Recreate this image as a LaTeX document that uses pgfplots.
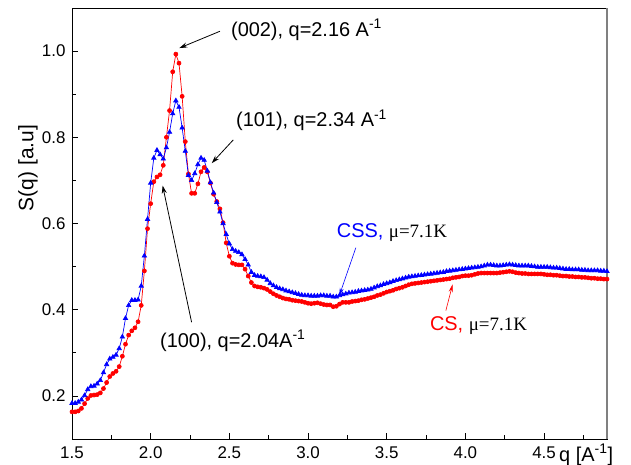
\documentclass[border=0pt]{standalone}
\usepackage{pgfplots}
\pgfplotsset{compat=1.18}
\usepackage{pgfplotstable}
\usetikzlibrary{arrows.meta}
\usepackage{fontspec}
\setmainfont{Liberation Sans}
\newfontfamily\seriffont{Liberation Serif}

\pgfplotstableread{
q S
1.50 0.183
1.52 0.183
1.54 0.186
1.56 0.191
1.58 0.201
1.60 0.215
1.62 0.222
1.64 0.223
1.66 0.228
1.68 0.236
1.70 0.254
1.72 0.273
1.74 0.286
1.76 0.290
1.78 0.295
1.80 0.310
1.82 0.337
1.84 0.380
1.86 0.410
1.88 0.422
1.90 0.422
1.92 0.423
1.94 0.455
1.96 0.525
1.98 0.610
2.00 0.694
2.02 0.752
2.04 0.770
2.06 0.760
2.08 0.750
2.10 0.776
2.12 0.812
2.14 0.855
2.16 0.885
2.18 0.870
2.20 0.822
2.22 0.768
2.24 0.712
2.26 0.700
2.28 0.716
2.30 0.737
2.32 0.752
2.34 0.747
2.36 0.722
2.38 0.695
2.40 0.671
2.42 0.649
2.44 0.627
2.46 0.600
2.48 0.575
2.50 0.553
2.52 0.540
2.54 0.536
2.56 0.533
2.58 0.528
2.60 0.517
2.62 0.504
2.64 0.487
2.66 0.480
2.68 0.478
2.70 0.477
2.72 0.475
2.74 0.469
2.76 0.461
2.78 0.456
2.80 0.452
2.82 0.449
2.84 0.447
2.86 0.444
2.88 0.442
2.90 0.440
2.92 0.438
2.94 0.436
2.96 0.434
2.98 0.433
3.00 0.433
3.02 0.432
3.04 0.432
3.06 0.432
3.08 0.433
3.10 0.433
3.12 0.432
3.14 0.432
3.16 0.430
3.18 0.430
3.20 0.433
3.22 0.435
3.24 0.437
3.26 0.439
3.28 0.440
3.30 0.441
3.32 0.443
3.34 0.444
3.36 0.445
3.38 0.446
3.40 0.448
3.42 0.451
3.44 0.454
3.46 0.456
3.48 0.459
3.50 0.461
3.52 0.463
3.54 0.466
3.56 0.468
3.58 0.470
3.60 0.472
3.62 0.474
3.64 0.476
3.66 0.477
3.68 0.478
3.70 0.479
3.72 0.480
3.74 0.481
3.76 0.482
3.78 0.483
3.80 0.484
3.82 0.485
3.84 0.486
3.86 0.487
3.88 0.489
3.90 0.490
3.92 0.491
3.94 0.492
3.96 0.493
3.98 0.494
4.00 0.495
4.02 0.496
4.04 0.497
4.06 0.498
4.08 0.499
4.10 0.500
4.12 0.502
4.14 0.504
4.16 0.504
4.18 0.503
4.20 0.502
4.22 0.502
4.24 0.503
4.26 0.504
4.28 0.505
4.30 0.504
4.32 0.503
4.34 0.502
4.36 0.502
4.38 0.502
4.40 0.502
4.42 0.501
4.44 0.500
4.46 0.499
4.48 0.499
4.50 0.499
4.52 0.499
4.54 0.498
4.56 0.497
4.58 0.497
4.60 0.496
4.62 0.495
4.64 0.494
4.66 0.494
4.68 0.493
4.70 0.493
4.72 0.493
4.74 0.492
4.76 0.492
4.78 0.491
4.80 0.491
4.82 0.491
4.84 0.491
4.86 0.490
4.88 0.490
4.90 0.489
}\css

\pgfplotstableread{
q S
1.50 0.163
1.52 0.163
1.54 0.165
1.56 0.171
1.58 0.182
1.60 0.194
1.62 0.201
1.64 0.202
1.66 0.203
1.68 0.207
1.70 0.217
1.72 0.231
1.74 0.245
1.76 0.252
1.78 0.257
1.80 0.268
1.82 0.292
1.84 0.320
1.86 0.341
1.88 0.351
1.90 0.358
1.92 0.372
1.94 0.410
1.96 0.490
1.98 0.588
2.00 0.646
2.02 0.697
2.04 0.708
2.06 0.713
2.08 0.735
2.10 0.800
2.12 0.862
2.14 0.952
2.16 0.993
2.18 0.972
2.20 0.895
2.22 0.790
2.24 0.715
2.26 0.670
2.28 0.670
2.30 0.692
2.32 0.720
2.34 0.730
2.36 0.720
2.38 0.694
2.40 0.668
2.42 0.651
2.44 0.634
2.46 0.602
2.48 0.555
2.50 0.524
2.52 0.508
2.54 0.505
2.56 0.504
2.58 0.504
2.60 0.494
2.62 0.478
2.64 0.463
2.66 0.455
2.68 0.453
2.70 0.452
2.72 0.450
2.74 0.447
2.76 0.442
2.78 0.437
2.80 0.433
2.82 0.430
2.84 0.427
2.86 0.425
2.88 0.424
2.90 0.422
2.92 0.421
2.94 0.420
2.96 0.419
2.98 0.417
3.00 0.415
3.02 0.414
3.04 0.415
3.06 0.416
3.08 0.414
3.10 0.412
3.12 0.411
3.14 0.411
3.16 0.407
3.18 0.408
3.20 0.413
3.22 0.417
3.24 0.417
3.26 0.417
3.28 0.419
3.30 0.420
3.32 0.421
3.34 0.423
3.36 0.424
3.38 0.426
3.40 0.428
3.42 0.430
3.44 0.433
3.46 0.435
3.48 0.438
3.50 0.441
3.52 0.443
3.54 0.445
3.56 0.448
3.58 0.450
3.60 0.452
3.62 0.455
3.64 0.458
3.66 0.460
3.68 0.461
3.70 0.462
3.72 0.463
3.74 0.464
3.76 0.465
3.78 0.466
3.80 0.467
3.82 0.468
3.84 0.469
3.86 0.470
3.88 0.471
3.90 0.472
3.92 0.474
3.94 0.475
3.96 0.476
3.98 0.478
4.00 0.479
4.02 0.479
4.04 0.480
4.06 0.482
4.08 0.484
4.10 0.485
4.12 0.485
4.14 0.485
4.16 0.485
4.18 0.485
4.20 0.485
4.22 0.486
4.24 0.487
4.26 0.488
4.28 0.489
4.30 0.488
4.32 0.486
4.34 0.485
4.36 0.484
4.38 0.484
4.40 0.483
4.42 0.483
4.44 0.483
4.46 0.483
4.48 0.483
4.50 0.482
4.52 0.481
4.54 0.481
4.56 0.480
4.58 0.480
4.60 0.479
4.62 0.478
4.64 0.478
4.66 0.477
4.68 0.477
4.70 0.476
4.72 0.476
4.74 0.475
4.76 0.475
4.78 0.474
4.80 0.473
4.82 0.473
4.84 0.472
4.86 0.472
4.88 0.471
4.90 0.471
}\cs

\begin{document}
\begin{tikzpicture}
\useasboundingbox (-72bp,-26bp) rectangle (559bp,439bp);
\begin{axis}[
  at={(0,0)}, anchor=south west,
  width=535bp, height=431bp, scale only axis,
  xmin=1.5, xmax=4.9, ymin=0.1, ymax=1.1,
  xtick={1.5,2,2.5,3,3.5,4,4.5},
  xticklabels={1.5,2.0,2.5,3.0,3.5,4.0,4.5},
  ytick={0.2,0.4,0.6,0.8,1.0},
  yticklabels={0.2,0.4,0.6,0.8,1.0},
  minor xtick={1.75,2.25,2.75,3.25,3.75,4.25,4.75},
  minor ytick={0.1,0.3,0.5,0.7,0.9},
  xtick pos=bottom, ytick pos=left,
  tick align=inside,
  major tick length=6bp, minor tick length=4bp,
  every tick/.style={black, line width=0.8pt},
  axis line style={black, line width=0.9pt},
  xticklabel style={font=\fontsize{17}{20}\selectfont, yshift=-4bp},
  yticklabel style={font=\fontsize{17}{20}\selectfont, xshift=-3bp},
  clip=false,
]
\addplot[red, line width=0.7pt, mark=*, mark size=2pt, mark options={fill=red}] table[x=q,y=S] {\cs};
\addplot[blue, line width=0.7pt, mark=triangle*, mark size=2.5pt, mark options={fill=blue}] table[x=q,y=S] {\css};

\draw[gray, line width=1.2pt] (axis cs:4.9,0.1) -- (axis cs:4.9,1.1);

\node[anchor=west, inner sep=0, font=\fontsize{20}{22}\selectfont] at (axis cs:2.51,1.050) {(002), q=2.16 A\textsuperscript{-1}};
\draw[-{Stealth[length=8bp,width=5bp]}, black, line width=0.8pt] (axis cs:2.440,1.046) -- (axis cs:2.182,1.007);

\node[anchor=west, inner sep=0, font=\fontsize{20}{22}\selectfont] at (axis cs:2.542,0.840) {(101), q=2.34 A\textsuperscript{-1}};
\draw[-{Stealth[length=8bp,width=5bp]}, black, line width=0.8pt] (axis cs:2.525,0.794) -- (axis cs:2.388,0.740);

\node[anchor=west, inner sep=0, font=\fontsize{20}{22}\selectfont] at (axis cs:2.059,0.328) {(100), q=2.04A\textsuperscript{-1}};
\draw[-{Stealth[length=8bp,width=5bp]}, black, line width=0.8pt] (axis cs:2.260,0.371) -- (axis cs:2.076,0.688);

\node[anchor=west, inner sep=0, font=\fontsize{20}{22}\selectfont] at (axis cs:3.182,0.578) {\textcolor{blue}{CSS,} {\seriffont\fontsize{19}{21}\selectfont μ=7.1K}};
\draw[-{Stealth[length=8bp,width=4bp]}, blue, line width=0.6pt] (axis cs:3.304,0.544) -- (axis cs:3.198,0.432);

\node[anchor=west, inner sep=0, font=\fontsize{20}{22}\selectfont] at (axis cs:3.774,0.363) {\textcolor{red}{CS,} {\seriffont\fontsize{19}{21}\selectfont μ=7.1K}};
\draw[-{Stealth[length=8bp,width=4bp]}, red, line width=0.6pt] (axis cs:3.876,0.398) -- (axis cs:3.919,0.459);
\end{axis}
\node[rotate=90, inner sep=0, font=\fontsize{21}{23}\selectfont] at (-44bp,271bp) {S(q) [a.u]};
\node[anchor=west, inner sep=0, font=\fontsize{20}{22}\selectfont] at (487bp,-16bp) {q [A\textsuperscript{-1}]};
\end{tikzpicture}
\end{document}
